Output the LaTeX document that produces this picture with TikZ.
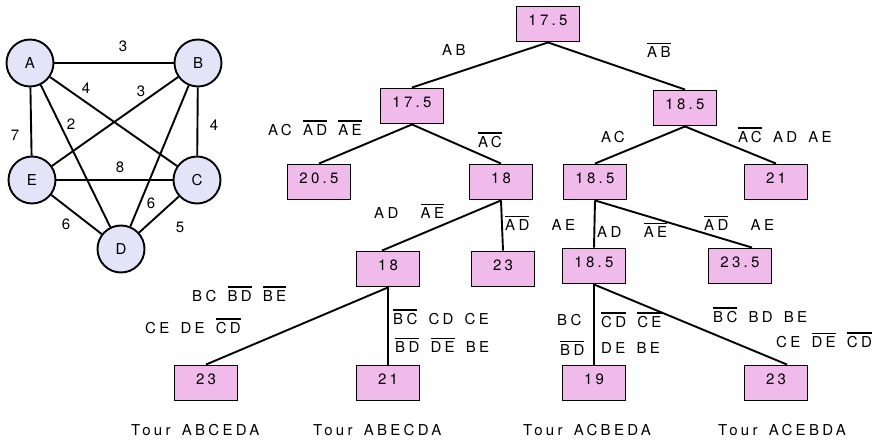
\documentclass[tikz,border=0pt]{standalone}
\usepackage{fontspec}
\setmainfont[LetterSpace=22,WordSpace=1.5]{TeX Gyre Heros}
\newcommand\ovl[1]{\leavevmode\vbox{\hrule height 1.4pt\kern 2.4pt\hbox{#1}}}
\definecolor{boxpink}{RGB}{240,187,235}
\definecolor{circlav}{RGB}{228,228,248}
\begin{document}
\begin{tikzpicture}[x=1pt,y=-1pt,
  every node/.style={font=\fontsize{15}{17}\selectfont},
  vert/.style={circle,draw,line width=1.9pt,fill=circlav,minimum size=47pt,inner sep=0pt},
  bbox/.style={rectangle,draw,line width=1.9pt,fill=boxpink,minimum width=63pt,minimum height=35pt,inner sep=0pt,text height=11pt,text depth=8pt},
  conn/.style={line width=1.9pt},
  lab/.style={inner sep=0pt},
  labw/.style={inner sep=0pt,anchor=west}]
\useasboundingbox (0,0) rectangle (878,443);
% graph
\node[vert] (A) at (30,63) {A};
\node[vert] (B) at (198,63) {B};
\node[vert] (E) at (32,180) {E};
\node[vert] (C) at (197,180) {C};
\node[vert] (D) at (121,249) {D};
\draw[conn] (A) -- (B);
\draw[conn] (A) -- (E);
\draw[conn] (A) -- (D);
\draw[conn] (A) -- (C);
\draw[conn] (B) -- (E);
\draw[conn] (B) -- (C);
\draw[conn] (B) -- (D);
\draw[conn] (E) -- (C);
\draw[conn] (E) -- (D);
\draw[conn] (D) -- (C);
\node[lab] (wab) at (123,46) {3};
\node[lab] (wac) at (86,88) {4};
\node[lab] (wbe) at (141,91) {3};
\node[lab] (wad) at (71,124) {2};
\node[lab] (wae) at (15,135) {7};
\node[lab] (wbc) at (214,125) {4};
\node[lab] (wec) at (120,167) {8};
\node[lab] (wbd) at (151,203) {6};
\node[lab] (wed) at (66,224) {6};
\node[lab] (wdc) at (180,227) {5};
% tree
\node[bbox] (r) at (548,24) {17.5};
\node[bbox] (l1) at (412,106) {17.5};
\node[bbox] (r1) at (685,108) {18.5};
\node[bbox] (n205) at (319,182) {20.5};
\node[bbox] (n18a) at (501,182) {18};
\node[bbox] (n185a) at (595,182) {18.5};
\node[bbox] (n21a) at (776,182) {21};
\node[bbox] (n18b) at (388,269) {18};
\node[bbox] (n23a) at (503,269) {23};
\node[bbox] (n185b) at (594,266) {18.5};
\node[bbox] (n235) at (740,266) {23.5};
\node[bbox] (n23b) at (206,383) {23};
\node[bbox] (n21b) at (388,383) {21};
\node[bbox] (n19) at (594,383) {19};
\node[bbox] (n23c) at (776,383) {23};
\draw[conn] (r.south) -- (l1.north);
\draw[conn] (r.south) -- (r1.north);
\draw[conn] (l1.south) -- (n205.north);
\draw[conn] (l1.south) -- (n18a.north);
\draw[conn] (r1.south) -- (n185a.north);
\draw[conn] (r1.south) -- (n21a.north);
\draw[conn] (n18a.south) -- ([xshift=-6pt]n18b.north);
\draw[conn] (n18a.south) -- (n23a.north);
\draw[conn] (n185a.south) -- (n185b.north);
\draw[conn] (n185a.south) -- ([xshift=12pt]n235.north);
\draw[conn] (n18b.south) -- (n23b.north);
\draw[conn] (n18b.south) -- (n21b.north);
\draw[conn] (n185b.south) -- (n19.north);
\draw[conn] (n185b.south) -- ([xshift=11pt]n23c.north);
% edge labels
\node[labw] (t1) at (442,50) {AB};
\node[labw] (t2) at (647,50) {\ovl{AB}};
\node[labw] (t3) at (268,128) {AC \ovl{AD} \ovl{AE}};
\node[labw] (t4) at (478,140) {\ovl{AC}};
\node[labw] (t5) at (601,137) {AC};
\node[labw] (t6) at (738,135) {\ovl{AC} AD AE};
\node[labw] (t7) at (374,211) {AD \ \ovl{AE}};
\node[labw] (t8) at (505,223) {\ovl{AD} \ AE};
\node[labw] (t9) at (597,230) {AD \ \ovl{AE}};
\node[labw] (t10) at (704,223) {\ovl{AD} \ AE};
\node[labw] (t11) at (192,294) {BC \ovl{BD} \ovl{BE}};
\node[labw] (t12) at (145,326) {CE DE \ovl{CD}};
\node[labw] (t13) at (393,317) {\ovl{BC} CD CE};
\node[labw] (t14) at (395,345) {\ovl{BD} \ovl{DE} BE};
\node[labw] (t15) at (557,320) {BC};
\node[labw] (t16) at (560,348) {\ovl{BD}};
\node[labw] (t17) at (601,320) {\ovl{CD} \ovl{CE}};
\node[labw] (t18) at (601,348) {DE BE};
\node[labw] (t19) at (713,315) {\ovl{BC} BD BE};
\node[labw] (t20) at (776,340) {CE \ovl{DE} \ovl{CD}};
% tours
\node[labw] (tour1) at (131,430) {Tour ABCEDA};
\node[labw] (tour2) at (313,430) {Tour ABECDA};
\node[labw] (tour3) at (523,430) {Tour ACBEDA};
\node[labw] (tour4) at (718,430) {Tour ACEBDA};
\end{tikzpicture}
\end{document}
